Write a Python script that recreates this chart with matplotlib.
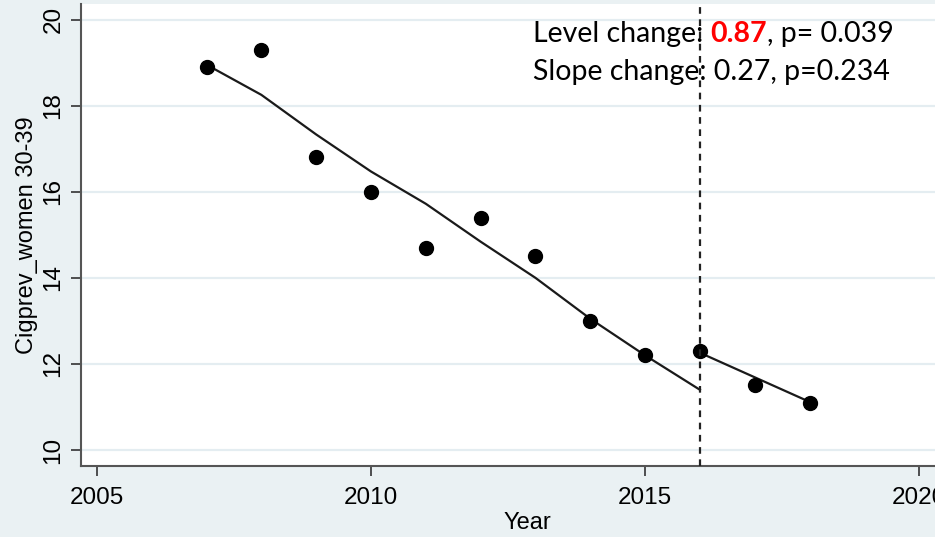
import matplotlib.pyplot as plt
from matplotlib.transforms import offset_copy

years = [2007, 2008, 2009, 2010, 2011, 2012, 2013, 2014, 2015, 2016, 2017, 2018]
prev = [18.9, 19.3, 16.8, 16.0, 14.7, 15.4, 14.5, 13.0, 12.2, 12.3, 11.5, 11.1]

# fitted values of the segmented regression, before and after the break
pre_years = [2007, 2008, 2009, 2010, 2011, 2012, 2013, 2014, 2015, 2016]
pre_fit = [18.95, 18.25, 17.33, 16.47, 15.72, 14.84, 14.0, 13.05, 12.2, 11.4]
post_years = [2016, 2017, 2018]
post_fit = [12.26, 11.69, 11.12]

break_year = 2016
xticks = [2005, 2010, 2015, 2020]
yticks = [10, 12, 14, 16, 18, 20]

bg = '#eaf1f3'
grid_col = '#e4edf1'

fig = plt.figure(figsize=(9.35, 5.37), dpi=100)
fig.patch.set_facecolor(bg)
ax = fig.add_axes([81 / 935, 71 / 537, 893 / 935, 462 / 537])
ax.set_facecolor('white')

ax.set_xlim(2004.71, 2021.0)
ax.set_ylim(9.63, 20.36)

for y in yticks:
    ax.axhline(y, color=grid_col, lw=1.6, zorder=0)

ax.plot(pre_years, pre_fit, color='#1a1a1a', lw=1.6, zorder=2)
ax.plot(post_years, post_fit, color='#1a1a1a', lw=1.6, zorder=2)
ax.scatter(years, prev, s=100, color='black', zorder=3)
ax.axvline(break_year, color='#222222', lw=1.6, ls=(0, (3, 2.5)), zorder=4)

for side in ['top', 'right']:
    ax.spines[side].set_visible(False)
for side in ['left', 'bottom']:
    ax.spines[side].set_color('#555555')
    ax.spines[side].set_linewidth(1.5)

ax.set_xticks(xticks)
ax.set_xticklabels([str(t) for t in xticks])
ax.set_yticks(yticks)
ax.set_yticklabels([str(t) for t in yticks], rotation=90, va='center')
ax.tick_params(axis='x', direction='out', length=7, width=1.2, color='#333333',
               labelsize=17.5, pad=8)
ax.tick_params(axis='y', direction='out', length=7, width=1.2, color='#333333',
               labelsize=17.5, pad=5)
for lab in ax.get_xticklabels() + ax.get_yticklabels():
    lab.set_family('Liberation Sans')

ax.set_xlabel('Year', fontsize=17, family='Liberation Sans', labelpad=2)
ax.set_ylabel('Cigprev_women 30-39', fontsize=17, family='Liberation Sans', labelpad=3)

# annotation with the level change highlighted
renderer = fig.canvas.get_renderer()
tfont = dict(fontsize=20.5, family='Lato', color='black', va='baseline', zorder=3)
x0, y1, y2 = 533 / 935, 1 - 42 / 537, 1 - 80 / 537
parts = [('Level change: ', 'black', 'normal'), ('0.87', '#ff0000', 'bold'),
         (', p= 0.039', 'black', 'normal')]
trans = fig.transFigure
for txt, col, wt in parts:
    t = fig.text(x0, y1, txt, transform=trans, **{**tfont, 'color': col}, weight=wt)
    w = t.get_window_extent(renderer).width
    trans = offset_copy(trans, fig=fig, x=w, y=0, units='dots')
fig.text(x0, y2, 'Slope change: 0.27, p=0.234', **tfont)

fig.savefig('out.png', dpi=100, facecolor=bg)
